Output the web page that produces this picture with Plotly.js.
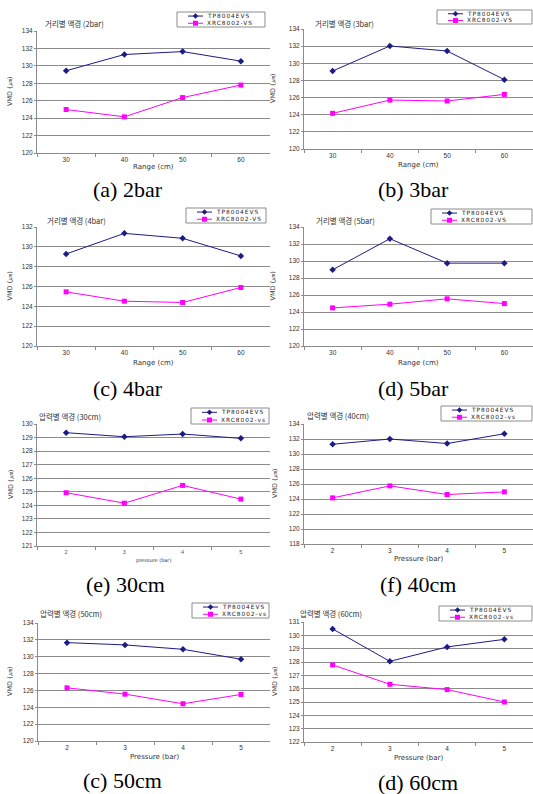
<!DOCTYPE html>
<html><head><meta charset="utf-8">
<script src="https://cdn.plot.ly/plotly-3.0.1.min.js"></script>
<style>html,body{margin:0;padding:0;background:#fff}#chart{width:533px;height:794px}</style>
</head><body><div id="chart"></div>
<script>
const W = 533, H = 794;

// categories
const rangeCats = ['30', '40', '50', '60'];
const pressureCats = ['2', '3', '4', '5'];

// VMD by distance (per pressure)
const tp_2bar  = [129.44, 131.3, 131.64, 130.54];
const xrc_2bar = [124.99, 124.15, 126.36, 127.8];
const tp_3bar  = [129.1, 132.02, 131.43, 128.09];
const xrc_3bar = [124.16, 125.71, 125.6, 126.37];
const tp_4bar  = [129.28, 131.36, 130.86, 129.08];
const xrc_4bar = [125.46, 124.52, 124.39, 125.9];
const tp_5bar  = [128.97, 132.62, 129.75, 129.75];
const xrc_5bar = [124.48, 124.92, 125.55, 124.99];

// VMD by pressure (per distance)
const tp_30cm  = [129.36, 129.06, 129.26, 128.94];
const xrc_30cm = [124.93, 124.16, 125.47, 124.46];
const tp_40cm  = [131.3, 132.0, 131.4, 132.7];
const xrc_40cm = [124.15, 125.75, 124.6, 124.95];
const tp_50cm  = [131.67, 131.4, 130.88, 129.7];
const xrc_50cm = [126.31, 125.56, 124.42, 125.52];
const tp_60cm  = [130.48, 128.05, 129.13, 129.7];
const xrc_60cm = [127.78, 126.33, 125.93, 125.0];

const seriesNames = ['TP8004EVS', 'XRC8002-VS'];
const seriesNamesLower = ['TP8004EVS', 'XRC8002-vs'];

const panels = [
  {title:'거리별 액경 (2bar)', cats:rangeCats, tp:tp_2bar, xrc:xrc_2bar, xlabel:'Range (cm)', caption:'(a) 2bar', yr:[120,134], dt:2,
   plot:[37,270,31,153], leg:[177,265,12,27], names:seriesNames, tpos:[43,23], ylx:10, xly:167, cap:[128,190]},
  {title:'거리별 액경 (3bar)', cats:rangeCats, tp:tp_3bar, xrc:xrc_3bar, xlabel:'Range (cm)', caption:'(b) 3bar', yr:[120,134], dt:2,
   plot:[304,533,29,149], leg:[437,532,10,24], names:seriesNames, tpos:[313,23], ylx:273, xly:165, cap:[413,190]},
  {title:'거리별 액경 (4bar)', cats:rangeCats, tp:tp_4bar, xrc:xrc_4bar, xlabel:'Range (cm)', caption:'(c) 4bar', yr:[120,132], dt:2,
   plot:[37,270,227,346], leg:[186,266,208,223], names:seriesNames, tpos:[45,220], ylx:10, xly:363, cap:[128,388]},
  {title:'거리별 액경 (5bar)', cats:rangeCats, tp:tp_5bar, xrc:xrc_5bar, xlabel:'Range (cm)', caption:'(d) 5bar', yr:[120,134], dt:2,
   plot:[304,533,227,346], leg:[431,532,209,224], names:seriesNames, tpos:[314,220], ylx:273, xly:363, cap:[413,388]},
  {title:'압력별 액경 (30cm)', cats:pressureCats, tp:tp_30cm, xrc:xrc_30cm, xlabel:'pressure (bar)', caption:'(e) 30cm', yr:[121,130], dt:1,
   plot:[37,270,424,546], leg:[191,269,408,424], names:seriesNamesLower, tpos:[37,416], ylx:11, xly:560, cap:[125,584], small:true},
  {title:'압력별 액경 (40cm)', cats:pressureCats, tp:tp_40cm, xrc:xrc_40cm, xlabel:'Pressure (bar)', caption:'(f) 40cm', yr:[118,134], dt:2,
   plot:[304,533,424,544], leg:[441,532,406,421], names:seriesNamesLower, tpos:[305,415], ylx:275, xly:559, cap:[418,584]},
  {title:'압력별 액경 (50cm)', cats:pressureCats, tp:tp_50cm, xrc:xrc_50cm, xlabel:'Pressure (bar)', caption:'(c) 50cm', yr:[120,134], dt:2,
   plot:[38,270,623,741], leg:[192,269,603,618], names:seriesNamesLower, tpos:[38,613], ylx:10, xly:757, cap:[122,780]},
  {title:'압력별 액경 (60cm)', cats:pressureCats, tp:tp_60cm, xrc:xrc_60cm, xlabel:'Pressure (bar)', caption:'(d) 60cm', yr:[122,131], dt:1,
   plot:[304,533,622,742], leg:[439,532,606,621], names:seriesNamesLower, tpos:[298,613], ylx:275, xly:758, cap:[418,782]}
];

const NAVY = '#1c1c86', MAG = '#ff00ff', GRID = '#8c8c8c';
const px = x => x / W;
const py = y => 1 - y / H;

const data = [];
const layout = {
  width: W, height: H, margin: {l:0, r:0, t:0, b:0},
  paper_bgcolor: '#fff', plot_bgcolor: '#fff', showlegend: false,
  shapes: [], annotations: []
};

panels.forEach((p, i) => {
  const n = i === 0 ? '' : String(i + 1);
  const xa = 'x' + n, ya = 'y' + n;
  data.push({x: p.cats, y: p.tp, xaxis: xa, yaxis: ya, type: 'scatter', mode: 'lines+markers',
    line: {color: NAVY, width: 1}, marker: {symbol: 'diamond', size: 5, color: NAVY}, name: p.names[0]});
  data.push({x: p.cats, y: p.xrc, xaxis: xa, yaxis: ya, type: 'scatter', mode: 'lines+markers',
    line: {color: MAG, width: 1}, marker: {symbol: 'square', size: 5, color: MAG}, name: p.names[1]});
  const [l, r, t, b] = p.plot;
  layout['xaxis' + n] = {
    domain: [px(l), px(r)], anchor: ya, type: 'category', range: [-0.5, 3.5],
    tickson: 'boundaries', ticks: 'outside', ticklen: 3, tickcolor: GRID, showgrid: false,
    showline: true, linecolor: GRID, linewidth: 1, fixedrange: true,
    tickfont: {family: 'Liberation Sans, Arial, sans-serif', size: p.small ? 5.5 : 6.5, color: p.small ? '#555' : '#333'}
  };
  layout['yaxis' + n] = {
    domain: [py(b), py(t)], anchor: xa, range: p.yr, tick0: p.yr[0], dtick: p.dt,
    showgrid: true, gridcolor: GRID, gridwidth: 1, zeroline: false,
    showline: true, linecolor: GRID, linewidth: 1, ticks: 'outside', ticklen: 2, tickcolor: GRID,
    fixedrange: true,
    tickfont: {family: 'Liberation Sans, Arial, sans-serif', size: 6.5, color: '#333'}
  };
  // panel title
  layout.annotations.push({xref: 'paper', yref: 'paper', x: px(p.tpos[0]), y: py(p.tpos[1]),
    xanchor: 'left', yanchor: 'middle', showarrow: false, text: p.title,
    font: {family: 'Noto Sans CJK KR, sans-serif', size: 7.5, color: '#333'}});
  // y label
  layout.annotations.push({xref: 'paper', yref: 'paper', x: px(p.ylx), y: py((t + b) / 2),
    xanchor: 'center', yanchor: 'middle', showarrow: false, textangle: -90, text: 'VMD (㎛)',
    font: {family: 'DejaVu Sans, sans-serif', size: 6.5, color: '#333'}});
  // x label
  layout.annotations.push({xref: 'paper', yref: 'paper', x: px((l + r) / 2), y: py(p.xly),
    xanchor: 'center', yanchor: 'middle', showarrow: false, text: p.xlabel,
    font: {family: 'DejaVu Sans, sans-serif', size: p.small ? 5 : 7, color: '#333'}});
  // caption
  layout.annotations.push({xref: 'paper', yref: 'paper', x: px(p.cap[0]), y: py(p.cap[1]),
    xanchor: 'center', yanchor: 'middle', showarrow: false, text: p.caption,
    font: {family: 'Liberation Serif, Times New Roman, serif', size: 22, color: '#000'}});
  // legend box
  const [ll, lr, lt, lb] = p.leg;
  layout.shapes.push({type: 'rect', xref: 'paper', yref: 'paper', x0: px(ll), x1: px(lr), y0: py(lt), y1: py(lb),
    line: {color: GRID, width: 1}, fillcolor: '#fff'});
  const rows = [lt + (lb - lt) * 0.27, lt + (lb - lt) * 0.75];
  const colors = [NAVY, MAG];
  rows.forEach((ry, k) => {
    layout.shapes.push({type: 'line', xref: 'paper', yref: 'paper', x0: px(ll + 11), x1: px(ll + 26), y0: py(ry), y1: py(ry),
      line: {color: colors[k], width: 1}});
    const cx = ll + 18.5, s = 2.5;
    if (k === 0) {
      layout.shapes.push({type: 'path', xref: 'paper', yref: 'paper',
        path: `M${px(cx - s)},${py(ry)} L${px(cx)},${py(ry - s)} L${px(cx + s)},${py(ry)} L${px(cx)},${py(ry + s)} Z`,
        fillcolor: NAVY, line: {color: NAVY, width: 0.5}});
    } else {
      layout.shapes.push({type: 'rect', xref: 'paper', yref: 'paper', x0: px(cx - 2.5), x1: px(cx + 2.5), y0: py(ry - 2.5), y1: py(ry + 2.5),
        fillcolor: MAG, line: {color: MAG, width: 0}});
    }
    layout.annotations.push({xref: 'paper', yref: 'paper', x: px(ll + 28), y: py(ry), xanchor: 'left', yanchor: 'middle',
      showarrow: false, text: '<span style="letter-spacing:1px">' + p.names[k] + '</span>',
      font: {family: 'DejaVu Sans, sans-serif', size: 5.8, color: '#222'}});
  });
});

Plotly.newPlot('chart', data, layout, {staticPlot: true, displayModeBar: false});
</script></body></html>
